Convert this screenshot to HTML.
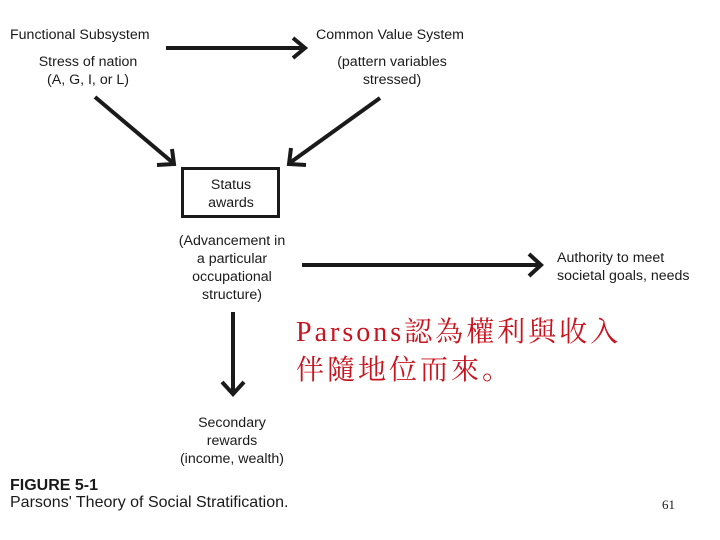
<!DOCTYPE html>
<html><head><meta charset="utf-8"><style>
html,body{margin:0;padding:0;background:#fff;}
body{width:720px;height:540px;position:relative;overflow:hidden;font-family:"Liberation Sans",sans-serif;color:#1a1a1a;}
.t{position:absolute;font-size:14.2px;line-height:18px;white-space:nowrap;}
.c{text-align:center;transform:translateX(-50%);}
.red{position:absolute;left:296px;top:314px;font-family:"Liberation Serif","Noto Serif CJK SC",serif;font-size:28px;line-height:38px;color:#c8141e;letter-spacing:3px;white-space:nowrap;}
</style></head><body>
<svg width="720" height="540" style="position:absolute;left:0;top:0">
<g stroke="#1a1a1a" stroke-width="4" fill="none" stroke-linecap="butt">
<line x1="166" y1="48" x2="303" y2="48"/>
<polyline points="293,38 305,48 293,58"/>
<line x1="95" y1="97" x2="172" y2="162"/>
<polyline points="157,165 174,164 172,149"/>
<line x1="380" y1="98" x2="291" y2="162"/>
<polyline points="291,148 289,164 306,165"/>
<rect x="182.5" y="168.5" width="96" height="48" stroke-width="3"/>
<line x1="302" y1="265" x2="540" y2="265"/>
<polyline points="529,254 541,265 529,276"/>
<line x1="233" y1="312" x2="233" y2="393"/>
<polyline points="222,382 233,394 244,382"/>
</g>
</svg>
<div class="t" style="left:10px;top:26px">Functional Subsystem</div>
<div class="t" style="left:316px;top:26px">Common Value System</div>
<div class="t c" style="left:88px;top:53px">Stress of nation<br>(A, G, I, or L)</div>
<div class="t c" style="left:392px;top:53px">(pattern variables<br>stressed)</div>
<div class="t c" style="left:231px;top:176px">Status<br>awards</div>
<div class="t c" style="left:232px;top:232px">(Advancement in<br>a particular<br>occupational<br>structure)</div>
<div class="t" style="left:557px;top:249px">Authority to meet<br>societal goals, needs</div>
<div class="t c" style="left:232px;top:414px">Secondary<br>rewards<br>(income, wealth)</div>
<div class="t" style="left:10px;top:477px;font-weight:bold;font-size:16px">FIGURE 5-1</div>
<div class="t" style="left:10px;top:494px;font-size:16px">Parsons' Theory of Social Stratification.</div>
<div class="red">Parsons認為權利與收入<br>伴隨地位而來。</div>
<div class="t" style="left:662px;top:496px;font-family:'Liberation Serif',serif;font-size:13px">61</div>
</body></html>
